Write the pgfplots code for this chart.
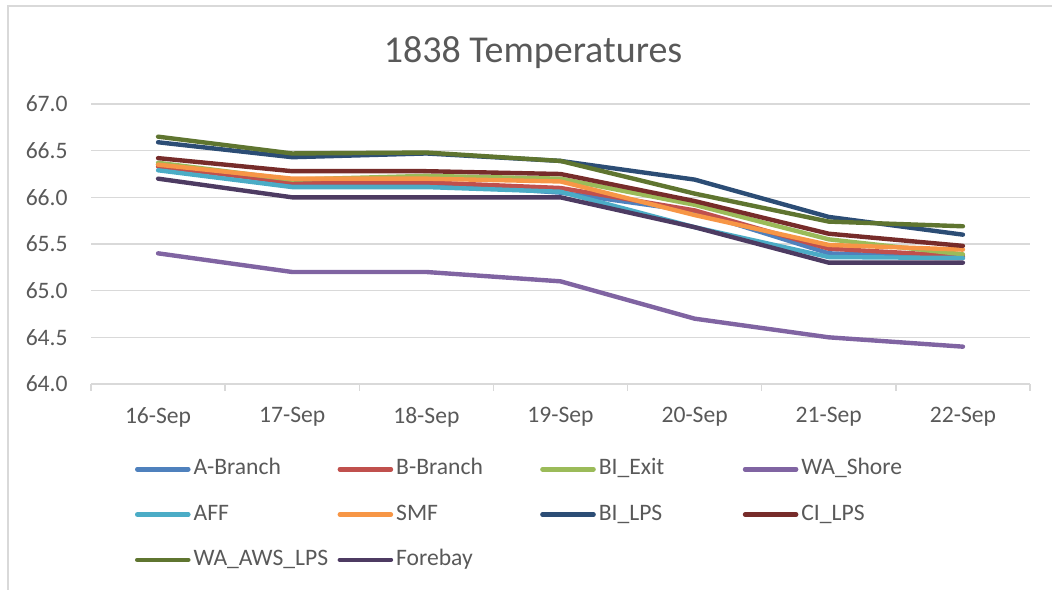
\documentclass[border=0pt]{standalone}
\usepackage{pgfplots}
\pgfplotsset{compat=1.18}
\usepackage{pgfplotstable}
\usepackage{fontspec}
\setmainfont{Carlito}
\definecolor{cA}{HTML}{4F81BD}
\definecolor{cB}{HTML}{C0504D}
\definecolor{cC}{HTML}{9BBB59}
\definecolor{cD}{HTML}{8064A2}
\definecolor{cE}{HTML}{4BACC6}
\definecolor{cF}{HTML}{F79646}
\definecolor{cG}{HTML}{2C4D75}
\definecolor{cH}{HTML}{772C2A}
\definecolor{cI}{HTML}{5F7530}
\definecolor{cJ}{HTML}{4D3B62}
\definecolor{txt}{HTML}{595959}
\definecolor{grd}{HTML}{D9D9D9}

\pgfplotstableread{
x A     B     BIE   WAS   AFF   SMF   BIL   CIL   WAA   FB
0 66.35 66.33 66.37 65.40 66.29 66.35 66.59 66.42 66.65 66.20
1 66.15 66.16 66.19 65.20 66.11 66.20 66.43 66.28 66.47 66.00
2 66.15 66.16 66.23 65.20 66.11 66.20 66.47 66.28 66.48 66.00
3 66.05 66.10 66.20 65.10 66.06 66.17 66.39 66.25 66.39 66.00
4 65.85 65.86 65.92 64.70 65.68 65.81 66.19 65.96 66.04 65.68
5 65.40 65.45 65.55 64.50 65.36 65.49 65.79 65.61 65.74 65.30
6 65.35 65.37 65.39 64.40 65.35 65.44 65.60 65.48 65.69 65.30
}\data

\begin{document}
\begin{tikzpicture}
\path[use as bounding box] (0,0) rectangle (526bp,295bp);
\begin{axis}[
  at={(45.5bp,103bp)}, anchor=south west,
  scale only axis, width=469.5bp, height=140bp,
  xmin=-0.5, xmax=6.5, ymin=64, ymax=67,
  ytick={64,64.5,65,65.5,66,66.5,67},
  xtick={0,1,2,3,4,5,6},
  xticklabels={16-Sep,17-Sep,18-Sep,19-Sep,20-Sep,21-Sep,22-Sep},
  minor xtick={-0.5,0.5,1.5,2.5,3.5,4.5,5.5,6.5},
  major tick length=0pt,
  minor tick length=3.5bp,
  tick align=outside,
  tick style={draw=grd, line width=0.7bp},
  axis x line*=bottom, axis y line*=left,
  x axis line style={draw=grd, line width=0.7bp, -},
  y axis line style={draw=none},
  ymajorgrids, major grid style={draw=grd, line width=0.7bp},
  /pgf/number format/fixed, /pgf/number format/fixed zerofill,
  /pgf/number format/precision=1, /pgf/number format/assume math mode=true,
  yticklabel style={font=\fontsize{11.8bp}{14bp}\selectfont, color=txt, inner sep=0pt, xshift=-11.5bp},
  xticklabel style={font=\fontsize{11.8bp}{14bp}\selectfont, color=txt, inner sep=0pt, anchor=north, yshift=-11.5bp},
  every axis plot/.append style={line width=2.2bp, line cap=round, line join=round},
  legend columns=4,
  legend image code/.code={\draw[#1, line width=2.3bp, line cap=round] (1bp,0bp) -- (26.5bp,0bp);},
  legend style={draw=none, fill=none, inner sep=0pt, outer sep=0pt,
    at={(0.04686,-0.2668)}, anchor=north west,
    font=\fontsize{11.8bp}{14bp}\selectfont, text=txt,
    nodes={inner sep=0pt, text height=8bp, text depth=2.5bp},
    row sep=12.15bp,
    /tikz/every odd column/.append style={column sep=1.5bp}},
  clip=false,
]
\addplot[cA] table[x=x,y=A]{\data};
\addlegendentry{\makebox[72bp][l]{A-Branch}}
\addplot[cB] table[x=x,y=B]{\data};
\addlegendentry{\makebox[72bp][l]{B-Branch}}
\addplot[cC] table[x=x,y=BIE]{\data};
\addlegendentry{\makebox[72bp][l]{BI\_Exit}}
\addplot[cD] table[x=x,y=WAS]{\data};
\addlegendentry{\makebox[72bp][l]{WA\_Shore}}
\addplot[cE] table[x=x,y=AFF]{\data};
\addlegendentry{\makebox[72bp][l]{AFF}}
\addplot[cF] table[x=x,y=SMF]{\data};
\addlegendentry{\makebox[72bp][l]{SMF}}
\addplot[cG] table[x=x,y=BIL]{\data};
\addlegendentry{\makebox[72bp][l]{BI\_LPS}}
\addplot[cH] table[x=x,y=CIL]{\data};
\addlegendentry{\makebox[72bp][l]{CI\_LPS}}
\addplot[cI] table[x=x,y=WAA]{\data};
\addlegendentry{\makebox[72bp][l]{WA\_AWS\_LPS}}
\addplot[cJ] table[x=x,y=FB]{\data};
\addlegendentry{\makebox[72bp][l]{Forebay}}
\end{axis}
\node[anchor=base, text=txt, font=\fontsize{19bp}{23bp}\selectfont, inner sep=0pt] at (266.5bp,263.5bp) {1838 Temperatures};
\draw[grd, line width=0.8bp] (4bp,0bp) -- (4bp,292bp) -- (526bp,292bp);
\end{tikzpicture}
\end{document}
